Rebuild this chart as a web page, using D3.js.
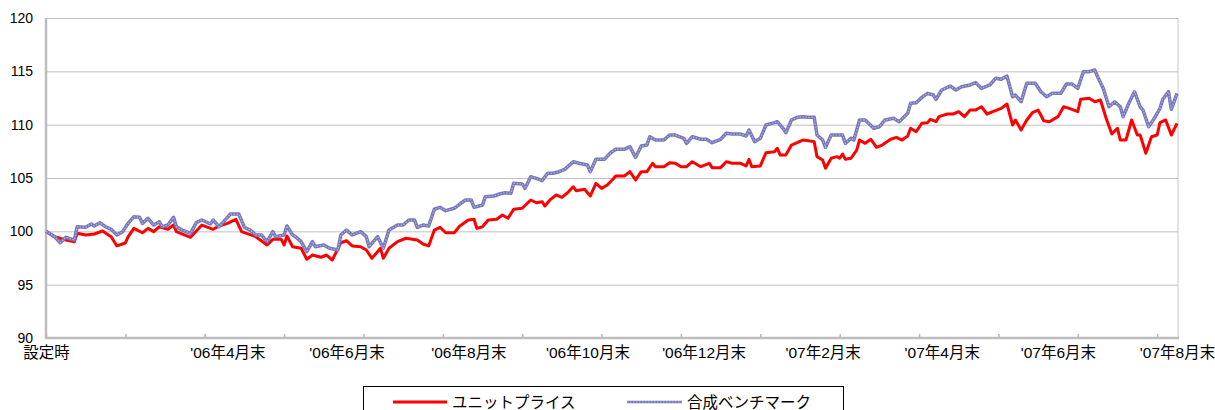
<!DOCTYPE html>
<html>
<head>
<meta charset="utf-8">
<script src="https://cdn.jsdelivr.net/npm/d3@7"></script>
<style>
  body { margin: 0; background: #fff; }
  svg text { font-family: "Liberation Sans", Arial, "Noto Sans CJK JP", sans-serif; fill: #000; }
</style>
</head>
<body>
<div id="chart"></div>
<script>
'use strict';

// business-day index of each reading, and the readings
var priceDays = [0,3,7,10,11,14,17,20,22,23,25,28,29,31,34,36,38,40,43,45,46,51,55,59,61,64,67,69,74,78,80,83,84,85,87,90,92,94,97,99,101,104,106,108,111,113,115,118,119,121,124,127,131,133,135,137,139,141,144,146,149,151,152,154,156,159,161,163,165,168,171,173,175,176,178,180,182,184,186,187,190,192,194,196,198,200,201,204,206,208,210,212,214,215,218,220,222,224,226,228,231,234,235,238,240,242,245,247,248,249,252,254,257,258,259,261,263,265,267,269,271,272,274,275,277,279,280,281,282,284,286,287,289,291,293,295,298,300,302,304,305,307,309,311,312,314,315,318,320,322,324,326,328,330,332,334,337,339,341,342,344,346,348,350,352,354,357,359,361,364,365,368,370,372,374,376,378,379,381,383,385,386,388,390,392,393,395,397,399];
var priceValues = [100.0,99.5,99.19,99.03,99.82,99.66,99.75,100.03,99.66,99.5,98.63,98.91,99.5,100.28,99.87,100.28,99.97,100.43,100.19,100.59,99.97,99.44,100.59,100.19,100.5,100.75,101.13,99.97,99.5,98.72,99.25,99.25,98.72,99.56,98.56,98.41,97.38,97.78,97.57,97.78,97.31,98.93,99.12,98.63,98.56,98.25,97.47,98.41,97.47,98.41,99.03,99.35,99.19,98.81,98.63,100.12,100.38,99.87,99.87,100.5,101.06,101.13,100.28,100.43,101.06,101.13,101.53,101.22,102.07,102.16,102.94,102.68,102.78,102.37,103.0,103.41,103.19,103.62,104.18,103.81,103.94,103.31,104.5,104.03,104.34,104.88,105.19,105.19,105.59,104.81,105.59,105.59,106.38,106.06,106.06,106.43,106.38,106.06,106.06,106.53,106.06,106.38,105.97,105.97,106.53,106.38,106.38,106.13,106.75,106.06,106.13,107.37,107.47,107.78,107.16,107.16,108.09,108.31,108.56,108.5,108.41,107.0,106.69,105.91,106.85,107.0,106.85,107.25,106.75,106.85,107.62,108.56,108.25,108.63,107.88,108.09,108.63,108.81,108.56,108.94,109.66,109.34,110.13,110.19,110.5,110.28,110.75,111.0,111.0,111.22,110.75,111.37,111.37,111.68,111.0,111.22,111.53,111.94,109.97,110.44,109.5,110.44,111.12,111.37,110.37,110.28,110.75,111.68,111.53,111.22,112.38,112.47,112.15,112.31,110.6,109.12,109.66,108.56,108.56,110.44,109.03,109.03,107.32,108.87,109.03,110.19,110.44,109.03,110.13];

var benchDays = [0,3,5,7,10,11,14,16,17,19,21,23,25,27,29,31,33,34,36,38,40,41,43,45,46,48,51,53,55,58,59,61,63,65,68,70,72,74,76,78,80,81,84,85,87,88,90,92,94,95,98,100,103,104,106,108,111,113,114,117,119,121,124,126,128,130,131,133,135,137,139,141,144,146,148,150,151,154,155,158,160,162,164,165,168,169,171,173,175,177,179,181,183,186,188,191,192,194,197,199,201,204,206,208,210,212,213,215,218,220,222,225,226,228,231,233,235,238,240,242,245,247,248,250,252,254,257,258,260,261,263,265,267,269,271,272,274,275,277,279,281,282,284,285,287,289,292,294,296,299,301,304,305,307,309,311,313,314,316,319,321,323,326,328,330,333,335,337,339,341,342,344,346,349,351,353,355,358,360,362,364,366,368,370,371,373,375,377,379,380,382,384,386,387,389,391,393,394,396,397,399];
var benchValues = [100.0,99.5,98.93,99.44,99.19,100.43,100.38,100.69,100.5,100.81,100.43,100.19,99.66,99.97,100.75,101.37,101.31,100.75,101.22,100.59,100.9,100.43,100.59,101.31,100.43,100.12,99.81,100.81,101.06,100.69,101.06,100.43,101.0,101.62,101.62,100.38,100.12,99.66,99.66,99.03,99.97,99.5,99.66,100.5,99.66,99.5,99.03,98.09,99.03,98.56,98.72,98.41,98.25,99.66,100.12,99.66,99.97,99.5,98.56,99.5,98.41,100.12,100.59,100.59,101.06,101.06,100.38,100.59,100.5,102.07,102.25,101.94,102.16,102.56,102.94,102.94,102.25,102.47,103.25,103.31,103.5,103.62,103.56,104.5,104.44,104.03,105.12,104.97,104.75,105.44,105.44,105.59,105.81,106.53,106.38,106.22,105.59,106.75,106.75,107.32,107.69,107.69,107.94,106.94,108.0,108.09,108.87,108.56,108.56,109.03,109.03,108.72,108.25,108.87,108.63,108.63,108.31,108.63,109.19,109.12,109.12,108.94,109.5,108.41,108.72,109.97,110.19,110.28,109.66,109.25,110.44,110.69,110.75,110.69,110.69,109.03,108.56,107.88,109.03,109.03,109.03,108.25,108.72,108.56,110.44,110.44,109.66,109.81,110.44,110.6,110.28,111.06,112.0,112.06,112.56,112.94,112.78,112.38,113.25,113.62,113.25,113.56,113.72,113.94,113.4,113.72,114.35,114.25,114.56,112.62,112.78,112.15,113.88,113.88,113.09,112.62,112.94,112.94,113.81,113.81,113.4,114.97,114.97,115.12,114.5,113.4,111.68,112.15,111.68,110.75,112.0,113.09,111.68,111.37,109.81,110.6,111.53,112.38,113.09,111.44,112.94];

var labelDays = [0,64,106,149,191,232,274,316,357,399];
var labelTexts = ['設定時',"'06年4月末","'06年6月末","'06年8月末","'06年10月末","'06年12月末","'07年2月末","'07年4月末","'07年6月末","'07年8月末"];
var yTicks = [90,95,100,105,110,115,120];
var seriesNames = ['ユニットプライス','合成ベンチマーク'];

var W = 1215, H = 410;
var plotLeft = 46, plotRight = 1178, plotTop = 18, plotBottom = 338;

var svg = d3.select('#chart').append('svg')
    .attr('width', W)
    .attr('height', H);

var x = d3.scaleLinear().domain([0, 399]).range([plotLeft, 1177]);
var y = d3.scaleLinear().domain([90, 120]).range([plotBottom, plotTop]);

// grid
svg.append('g')
    .attr('transform', 'translate(' + plotLeft + ',0)')
    .call(d3.axisLeft(y).tickValues(yTicks.slice(1)).tickSize(-(plotRight - plotLeft)).tickFormat(''))
    .call(function(g) {
        g.select('.domain').remove();
        g.selectAll('line').attr('stroke', '#c0c0c0');
    });

// right border
svg.append('line')
    .attr('x1', plotRight).attr('x2', plotRight)
    .attr('y1', plotTop).attr('y2', plotBottom)
    .attr('stroke', '#c8c8c8');

// y labels
svg.append('g')
    .attr('transform', 'translate(' + plotLeft + ',0)')
    .call(d3.axisLeft(y).tickValues(yTicks).tickSize(0).tickPadding(13))
    .call(function(g) {
        g.select('.domain').remove();
        g.selectAll('text').style('font-size', '14px');
    });

// x tick marks every 28 days
svg.append('g')
    .attr('transform', 'translate(0,' + plotBottom + ')')
    .call(d3.axisBottom(x).tickValues(d3.range(0, 393, 28)).tickSizeInner(-4).tickSizeOuter(0).tickFormat(''))
    .call(function(g) {
        g.select('.domain').remove();
        g.selectAll('line').attr('stroke', '#b8b8b8').attr('stroke-width', 1.5);
    });

// x labels
svg.append('g')
    .attr('transform', 'translate(0,' + plotBottom + ')')
    .call(d3.axisBottom(x).tickValues(labelDays).tickSize(0).tickPadding(9)
        .tickFormat(function(d, i) { return labelTexts[i]; }))
    .call(function(g) {
        g.select('.domain').remove();
        g.selectAll('text').style('font-size', '15.5px');
    });

// axis lines
svg.append('line')
    .attr('x1', plotLeft).attr('x2', plotLeft)
    .attr('y1', plotTop).attr('y2', plotBottom + 1)
    .attr('stroke', '#bdbdbd').attr('stroke-width', 2.5);
svg.append('line')
    .attr('x1', plotLeft).attr('x2', plotRight + 1)
    .attr('y1', plotBottom).attr('y2', plotBottom)
    .attr('stroke', '#bdbdbd').attr('stroke-width', 2.5);

var line = d3.line()
    .x(function(d) { return x(d[0]); })
    .y(function(d) { return y(d[1]); });

var priceData = d3.zip(priceDays, priceValues);
var benchData = d3.zip(benchDays, benchValues);

svg.append('path')
    .datum(priceData)
    .attr('d', line)
    .attr('fill', 'none')
    .attr('stroke', '#ff0000')
    .attr('stroke-width', 3)
    .attr('stroke-linejoin', 'round');

// benchmark: textured purple line
svg.append('path')
    .datum(benchData)
    .attr('d', line)
    .attr('fill', 'none')
    .attr('stroke', '#7676bb')
    .attr('stroke-width', 3.5)
    .attr('stroke-linejoin', 'round');
svg.append('path')
    .datum(benchData)
    .attr('d', line)
    .attr('fill', 'none')
    .attr('stroke', '#b4b4dc')
    .attr('stroke-width', 1.2)
    .attr('stroke-dasharray', '1.5,1.5');

// legend
var legend = svg.append('g');
legend.append('rect')
    .attr('x', 363.5).attr('y', 386.5)
    .attr('width', 480).attr('height', 40)
    .attr('fill', '#fff')
    .attr('stroke', '#000');
legend.append('line')
    .attr('x1', 393).attr('x2', 447).attr('y1', 402).attr('y2', 402)
    .attr('stroke', '#ff0000').attr('stroke-width', 3);
legend.append('text')
    .attr('x', 452).attr('y', 408)
    .style('font-size', '15.5px')
    .text(seriesNames[0]);
legend.append('line')
    .attr('x1', 627).attr('x2', 682).attr('y1', 402).attr('y2', 402)
    .attr('stroke', '#7676bb').attr('stroke-width', 2.5);
legend.append('line')
    .attr('x1', 627).attr('x2', 682).attr('y1', 402).attr('y2', 402)
    .attr('stroke', '#b4b4dc').attr('stroke-width', 1).attr('stroke-dasharray', '1.5,1.5');
legend.append('text')
    .attr('x', 687).attr('y', 408)
    .style('font-size', '15.5px')
    .text(seriesNames[1]);
</script>
</body>
</html>
